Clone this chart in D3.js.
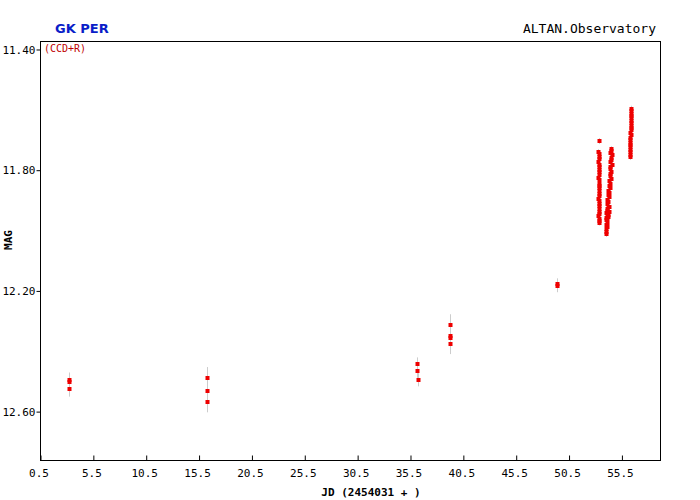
<!DOCTYPE html>
<html><head><meta charset="utf-8">
<script src="https://cdn.jsdelivr.net/npm/d3@7"></script>
<style>body{margin:0;background:#fff;}svg{display:block;}</style>
</head><body>
<script>
// ---- data ----
const xTicks = [0.5, 5.5, 10.5, 15.5, 20.5, 25.5, 30.5, 35.5, 40.5, 45.5, 50.5, 55.5];
const yTicks = [11.40, 11.80, 12.20, 12.60];

// sparse nights
const sparseJD  = [3.23, 3.24, 3.25, 16.28, 16.29, 16.30, 36.20, 36.21, 36.22, 39.29, 39.30, 39.31, 39.30, 49.40, 49.41];
const sparseMag = [12.497, 12.505, 12.527, 12.489, 12.533, 12.569, 12.444, 12.468, 12.496, 12.314, 12.350, 12.358, 12.376, 12.180, 12.186];
const sparseErr = [0.025, 0.025, 0.025, 0.035, 0.035, 0.035, 0.022, 0.022, 0.022, 0.035, 0.035, 0.035, 0.035, 0.02, 0.02];

// dense night A (JD ~53.3)
const nightAJD  = [53.36, 53.33, 53.34, 53.35, 53.36, 53.33, 53.35, 53.36, 53.34, 53.35, 53.37, 53.33, 53.36, 53.34, 53.35, 53.37, 53.36, 53.34, 53.35, 53.33, 53.36, 53.35, 53.37, 53.34, 53.36, 53.35, 53.33, 53.36, 53.35, 53.34];
const nightAMag = [11.705, 11.742, 11.748, 11.757, 11.766, 11.775, 11.784, 11.792, 11.801, 11.809, 11.818, 11.827, 11.835, 11.846, 11.853, 11.861, 11.870, 11.879, 11.887, 11.896, 11.904, 11.913, 11.921, 11.930, 11.939, 11.947, 11.955, 11.962, 11.970, 11.975];

// dense night B (JD ~54.3)
const nightBJD  = [54.50, 54.55, 54.45, 54.60, 54.48, 54.52, 54.42, 54.57, 54.46, 54.40, 54.53, 54.44, 54.38, 54.49, 54.35, 54.43, 54.30, 54.39, 54.27, 54.34, 54.22, 54.31, 54.18, 54.26, 54.14, 54.21, 54.10, 54.17, 54.06, 54.13, 54.08, 54.04, 54.11, 54.05, 54.09, 54.03, 54.07, 54.05, 54.25, 54.20, 54.32, 54.15, 54.28];
const nightBMag = [11.732, 11.738, 11.745, 11.752, 11.760, 11.768, 11.775, 11.783, 11.791, 11.799, 11.806, 11.814, 11.822, 11.830, 11.838, 11.846, 11.853, 11.861, 11.869, 11.876, 11.884, 11.892, 11.899, 11.907, 11.915, 11.922, 11.930, 11.938, 11.945, 11.953, 11.961, 11.968, 11.975, 11.983, 11.990, 11.998, 12.005, 12.013, 11.950, 11.958, 11.940, 11.965, 11.925];

// dense night C (JD ~56.4)
const nightCJD  = [56.40, 56.38, 56.42, 56.37, 56.41, 56.39, 56.43, 56.36, 56.40, 56.38, 56.34, 56.37, 56.32, 56.35, 56.30, 56.33, 56.29, 56.31, 56.28, 56.30, 56.29];
const nightCMag = [11.598, 11.606, 11.614, 11.622, 11.630, 11.638, 11.646, 11.654, 11.662, 11.670, 11.678, 11.686, 11.694, 11.702, 11.710, 11.718, 11.726, 11.734, 11.742, 11.750, 11.758];
const denseErr = 0.01;

// ---- build ----
const points = [];
sparseJD.forEach((j, i) => points.push({jd: j, mag: sparseMag[i], err: sparseErr[i]}));
[[nightAJD, nightAMag], [nightBJD, nightBMag], [nightCJD, nightCMag]].forEach(([js, ms]) =>
  js.forEach((j, i) => points.push({jd: j, mag: ms[i], err: denseErr})));

const W = 700, H = 500;
const L = 40, R = 660, T = 41, B = 460;
const svg = d3.select("body").append("svg").attr("width", W).attr("height", H);

const x = d3.scaleLinear().domain([0.5, 59.15]).range([L, R]);
const y = d3.scaleLinear().domain([11.3735, 12.762]).range([T, B]);

const mono = "'DejaVu Sans Mono', monospace";

// error bars
svg.append("g").selectAll("line").data(points).join("line")
  .attr("x1", d => Math.round(x(d.jd)) + 0.5).attr("x2", d => Math.round(x(d.jd)) + 0.5)
  .attr("y1", d => y(d.mag - d.err)).attr("y2", d => y(d.mag + d.err))
  .attr("stroke", "#cccccc").attr("stroke-width", 1);

// markers
svg.append("g").selectAll("rect").data(points).join("rect")
  .attr("x", d => Math.round(x(d.jd)) - 1.5).attr("y", d => Math.round(y(d.mag)) - 2)
  .attr("width", 4).attr("height", 4).attr("fill", "#ee0000");

// frame
svg.append("rect").attr("x", L + 0.5).attr("y", T + 0.5).attr("width", R - L).attr("height", B - T)
  .attr("fill", "none").attr("stroke", "#000").attr("stroke-width", 1);

// x axis
const xAxis = svg.append("g").attr("transform", `translate(0.5,${B + 0.5})`)
  .call(d3.axisBottom(x).tickValues(xTicks).tickFormat(d3.format(".1f")).tickSizeInner(-5).tickSizeOuter(0).tickPadding(9));
xAxis.select(".domain").remove();
xAxis.selectAll("text").attr("font-family", mono).attr("font-size", 11).attr("fill", "#000").attr("dx", -2);

// y axis
const yAxis = svg.append("g").attr("transform", `translate(${L + 0.5},0.5)`)
  .call(d3.axisLeft(y).tickValues(yTicks).tickFormat(d3.format(".2f")).tickSizeInner(4).tickSizeOuter(0).tickPadding(1));
yAxis.select(".domain").remove();
yAxis.selectAll("text").attr("font-family", mono).attr("font-size", 11).attr("fill", "#000");

// texts
svg.append("text").attr("x", 55).attr("y", 33).text("GK PER")
  .attr("font-family", "'DejaVu Sans', sans-serif").attr("font-weight", "bold").attr("font-size", 13).attr("fill", "#0a1ec8");
svg.append("text").attr("x", 656).attr("y", 33).attr("text-anchor", "end").text("ALTAN.Observatory")
  .attr("font-family", mono).attr("font-size", 13).attr("fill", "#000");
svg.append("text").attr("x", 44).attr("y", 52).text("(CCD+R)")
  .attr("font-family", mono).attr("font-size", 10).attr("fill", "#c00000");
svg.append("text").attr("transform", "translate(12,240) rotate(-90)").attr("text-anchor", "middle").text("MAG")
  .attr("font-family", mono).attr("font-weight", "bold").attr("font-size", 11).attr("fill", "#000");
svg.append("text").attr("x", 371).attr("y", 496).attr("text-anchor", "middle").text("JD (2454031 + )")
  .attr("font-family", mono).attr("font-weight", "bold").attr("font-size", 11).attr("fill", "#000");
</script>
</body></html>
